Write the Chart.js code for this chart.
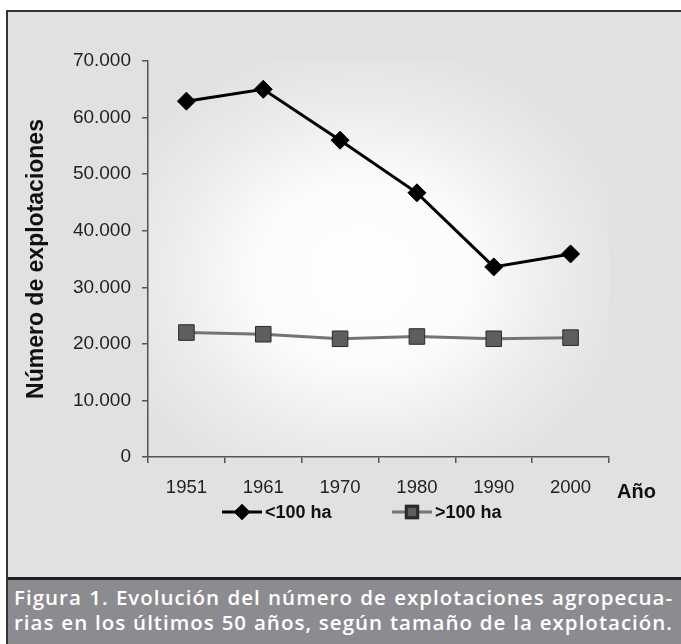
<!DOCTYPE html>
<html lang="es">
<head>
<meta charset="utf-8">
<title>Evolución del número de explotaciones</title>
<script src="https://cdn.jsdelivr.net/npm/chart.js@4.4.1/dist/chart.umd.min.js"></script>
<style>
  html, body { margin:0; padding:0; background:#fff; }
  body { width:681px; height:644px; position:relative; overflow:hidden; }
  .frame {
    position:absolute; left:6px; top:10px; width:675px; height:634px;
    border-left:2px solid #333; border-top:2px solid #333; box-sizing:border-box;
    background:#e1e1e1;
  }
  .chart-box { position:absolute; left:0; top:0; width:673px; height:565px; }
  .caption {
    position:absolute; left:0; top:565px; width:673px; height:67px;
    border-top:3px solid #222; box-sizing:border-box;
    background:#8c8c90; color:#fff;
    font-family:"Open Sans", "DejaVu Sans", sans-serif; font-weight:600; font-size:20.5px;
    padding:5px 8px 0 6px;
  }
  .caption div { text-align:justify; text-align-last:justify; line-height:25px; white-space:nowrap; }
  .caption.measuring div { text-align:left; text-align-last:left; }
</style>
</head>
<body>
<div class="frame">
  <div class="chart-box"><canvas id="chart-explotaciones"></canvas></div>
  <div class="caption" id="caption">
    <div><span>Figura 1. Evolución del número de explotaciones agropecua-</span></div>
    <div><span>rias en los últimos 50 años, según tamaño de la explotación.</span></div>
  </div>
</div>

<script>
// ── Data ──
const YEARS = ['1951', '1961', '1970', '1980', '1990', '2000'];
const SMALL_FARMS = [62900, 65000, 56000, 46700, 33600, 35900];   // <100 ha
const LARGE_FARMS = [22000, 21700, 20900, 21300, 20900, 21100];   // >100 ha
const SERIES_LABELS = ['<100 ha', '>100 ha'];
const Y_TICKS = { min: 0, max: 70000, step: 10000 };

const FONT = "'Liberation Sans', Arial, sans-serif";
const fmt = v => v === 0 ? '0' : v.toLocaleString('de-DE');

// ── Plugins ──
// soft white glow behind the plot, like the Excel "from centre" fill
const glowBg = {
  id: 'glowBg',
  beforeDatasetsDraw(chart) {
    const { ctx, chartArea: a } = chart;
    const cx = (a.left + a.right) / 2 - 15, cy = (a.top + a.bottom) / 2 + 15;
    const rx = (a.right - a.left) * 0.6, ry = (a.bottom - a.top) * 0.6;
    ctx.save();
    ctx.beginPath();
    ctx.rect(a.left + 1, a.top, a.right - a.left - 1, a.bottom - a.top - 1);
    ctx.clip();
    ctx.translate(cx, cy);
    ctx.scale(1, ry / rx);
    const g = ctx.createRadialGradient(0, 0, 0, 0, 0, rx);
    g.addColorStop(0, '#ffffff');
    g.addColorStop(0.4, '#fbfbfb');
    g.addColorStop(0.7, '#ececec');
    g.addColorStop(1, 'rgba(225,225,225,1)');
    ctx.fillStyle = g;
    ctx.fillRect(-rx * 2, -rx * 2, rx * 4, rx * 4);
    ctx.restore();
  }
};

// legend with line + marker, and the "Año" axis name
const extras = {
  id: 'extras',
  afterDraw(chart) {
    const { ctx, chartArea: a } = chart;
    ctx.save();
    ctx.font = `bold 20px ${FONT}`;
    ctx.fillStyle = '#111';
    ctx.textBaseline = 'middle';
    ctx.textAlign = 'left';
    ctx.fillText('Año', a.right + 8, a.bottom + 35);

    const y = 500;
    const starts = [214, 384];
    chart.data.datasets.forEach((ds, i) => {
      const x0 = starts[i];
      ctx.strokeStyle = ds.borderColor;
      ctx.lineWidth = 3;
      ctx.beginPath(); ctx.moveTo(x0, y); ctx.lineTo(x0 + 40, y); ctx.stroke();
      Chart.helpers.drawPoint(ctx, {
        pointStyle: ds.pointStyle, radius: ds.legendRadius, borderWidth: 1, rotation: 0
      }, x0 + 20, y);
      ctx.fillStyle = ds.pointBackgroundColor;
      ctx.strokeStyle = ds.pointBorderColor;
      ctx.fill(); ctx.stroke();
      ctx.font = `bold 18px ${FONT}`;
      ctx.fillStyle = '#111';
      ctx.fillText(ds.label, x0 + 43, y + 1);
    });
    ctx.restore();
  }
};

// caption: widen the letter spacing so the longer line fills the band
function fitCaption() {
  const cap = document.getElementById('caption');
  cap.classList.add('measuring');
  const spans = Array.from(cap.querySelectorAll('span'));
  let widest = 0, chars = 1;
  spans.forEach(s => {
    const w = s.getBoundingClientRect().width;
    if (w > widest) { widest = w; chars = s.textContent.length; }
  });
  cap.style.letterSpacing = Math.max(0, (652 - widest) / chars).toFixed(2) + 'px';
  cap.classList.remove('measuring');
}

// ── Chart ──
document.addEventListener('DOMContentLoaded', () => {
  fitCaption();
  const ctx = document.getElementById('chart-explotaciones');
  new Chart(ctx, {
    type: 'line',
    data: {
      labels: YEARS,
      datasets: [
        {
          label: SERIES_LABELS[0], data: SMALL_FARMS,
          borderColor: '#000', borderWidth: 3,
          pointStyle: 'rectRot', pointRadius: 9, legendRadius: 6,
          pointBackgroundColor: '#000', pointBorderColor: '#000', pointBorderWidth: 1,
          tension: 0,
        },
        {
          label: SERIES_LABELS[1], data: LARGE_FARMS,
          borderColor: '#747474', borderWidth: 3,
          pointStyle: 'rect', pointRadius: 11, legendRadius: 8,
          pointBackgroundColor: '#5e5e5e', pointBorderColor: '#2a2a2a', pointBorderWidth: 1,
          tension: 0,
        },
      ],
    },
    options: {
      responsive: true, maintainAspectRatio: false, animation: false,
      layout: { padding: { left: 0, right: 72, top: 49, bottom: 0 } },
      plugins: { legend: { display: false }, tooltip: { enabled: false } },
      scales: {
        x: {
          offset: true,
          grid: { offset: true, drawOnChartArea: false, drawTicks: true, tickLength: 6, color: '#555', lineWidth: 1.5 },
          border: { display: true, color: '#555', width: 1.5 },
          ticks: { color: '#222', font: { family: FONT, size: 18.5 }, padding: 14, maxRotation: 0 },
          afterFit: s => { s.height = 120; },
        },
        y: {
          min: Y_TICKS.min, max: Y_TICKS.max,
          grid: { drawOnChartArea: false, drawTicks: true, tickLength: 6, color: '#555', lineWidth: 1.5 },
          border: { display: true, color: '#555', width: 1.5 },
          ticks: { stepSize: Y_TICKS.step, color: '#222', font: { family: FONT, size: 19 }, padding: 11, callback: v => fmt(v) },
          title: { display: true, text: 'Número de explotaciones', color: '#111', font: { family: FONT, size: 23, weight: 'bold' }, padding: { top: 15, bottom: 0 } },
          afterFit: s => { s.width = 140; },
        },
      },
    },
    plugins: [glowBg, extras],
  });
});
</script>
</body>
</html>
